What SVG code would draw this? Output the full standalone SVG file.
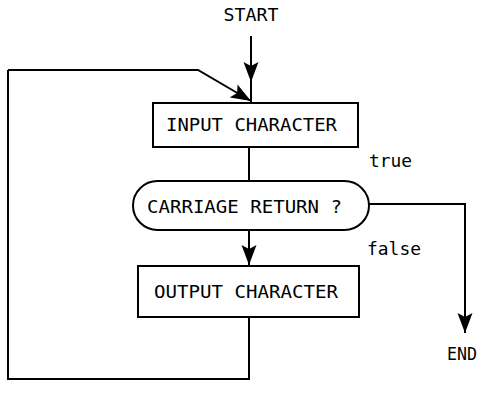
<svg xmlns="http://www.w3.org/2000/svg" width="478" height="394" viewBox="0 0 478 394">
<style>
.n{fill:#fff;stroke:#000;stroke-width:2}
.c{fill:none;stroke:#000;stroke-width:2}
text{font-family:"DejaVu Sans Mono","Liberation Mono",monospace;font-size:18px;fill:#000}
</style>
<defs>
<marker id="ah" markerWidth="21" markerHeight="16" refX="20" refY="8" orient="auto" markerUnits="userSpaceOnUse">
<path d="M0,0.5 L20,8 L0,15.5 L4,8 Z" fill="#000"/>
</marker>
</defs>
<rect width="478" height="394" fill="#fff"/>
<g id="connectors">
<path class="c" d="M251,36 V82" marker-end="url(#ah)"/>
<path class="c" d="M251,80 V103"/>
<path class="c" d="M8,70 H198 L251,101" marker-end="url(#ah)"/>
<path class="c" d="M249,147 V181"/>
<path class="c" d="M249,230 V265" marker-end="url(#ah)"/>
<path class="c" d="M369,204 H465 V333" marker-end="url(#ah)"/>
<path class="c" d="M249,317 V379 H8 V70"/>
</g>
<g id="start"><text x="251" y="21" text-anchor="middle" textLength="55" lengthAdjust="spacingAndGlyphs">START</text></g>
<g id="input"><rect class="n" x="153" y="103" width="205" height="44"/><text x="166" y="131" textLength="171" lengthAdjust="spacingAndGlyphs">INPUT CHARACTER</text></g>
<g id="decision"><rect class="n" x="133" y="181" width="236" height="49" rx="24.5"/><text x="147" y="213" textLength="195" lengthAdjust="spacingAndGlyphs">CARRIAGE RETURN ?</text></g>
<g id="output"><rect class="n" x="138" y="266" width="221" height="51"/><text x="154" y="298" textLength="184" lengthAdjust="spacingAndGlyphs">OUTPUT CHARACTER</text></g>
<g id="labels"><text x="369" y="167" textLength="43" lengthAdjust="spacingAndGlyphs">true</text><text x="367" y="255" textLength="54" lengthAdjust="spacingAndGlyphs">false</text></g>
<g id="end"><text x="447" y="360" textLength="30" lengthAdjust="spacingAndGlyphs">END</text></g>
</svg>
